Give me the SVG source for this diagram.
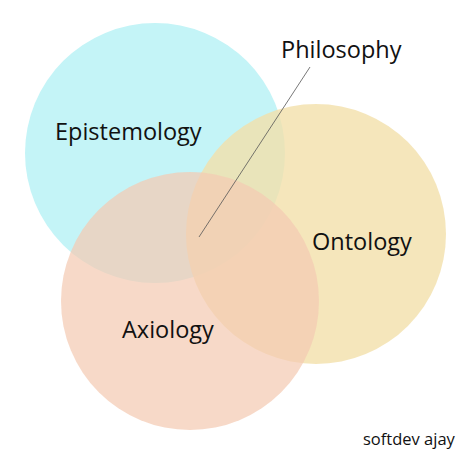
<svg xmlns="http://www.w3.org/2000/svg" width="474" height="474" viewBox="0 0 474 474">
<style>
text{font-family:"Open Sans","Noto Sans","DejaVu Sans",sans-serif;fill:#111111}
.lbl{font-size:23.5px}
</style>
<rect width="474" height="474" fill="#ffffff"/>
<g id="epistemology"><circle cx="155" cy="153" r="130" fill="#c4f4f7"/></g>
<g id="ontology"><circle cx="316" cy="234" r="130" fill="#f3e0aa" fill-opacity="0.8"/></g>
<g id="axiology"><circle cx="190" cy="301" r="129" fill="#f4cbb3" fill-opacity="0.72"/></g>
<g id="connectors"><line x1="310" y1="67" x2="199" y2="237" stroke="#555" stroke-width="0.8"/></g>
<g id="labels">
<text class="lbl" x="55" y="140">Epistemology</text>
<text class="lbl" x="281" y="58">Philosophy</text>
<text class="lbl" x="312" y="250">Ontology</text>
<text class="lbl" x="122" y="338">Axiology</text>
<text x="363" y="445" font-size="16.5" fill="#333">softdev ajay</text>
</g>
</svg>
